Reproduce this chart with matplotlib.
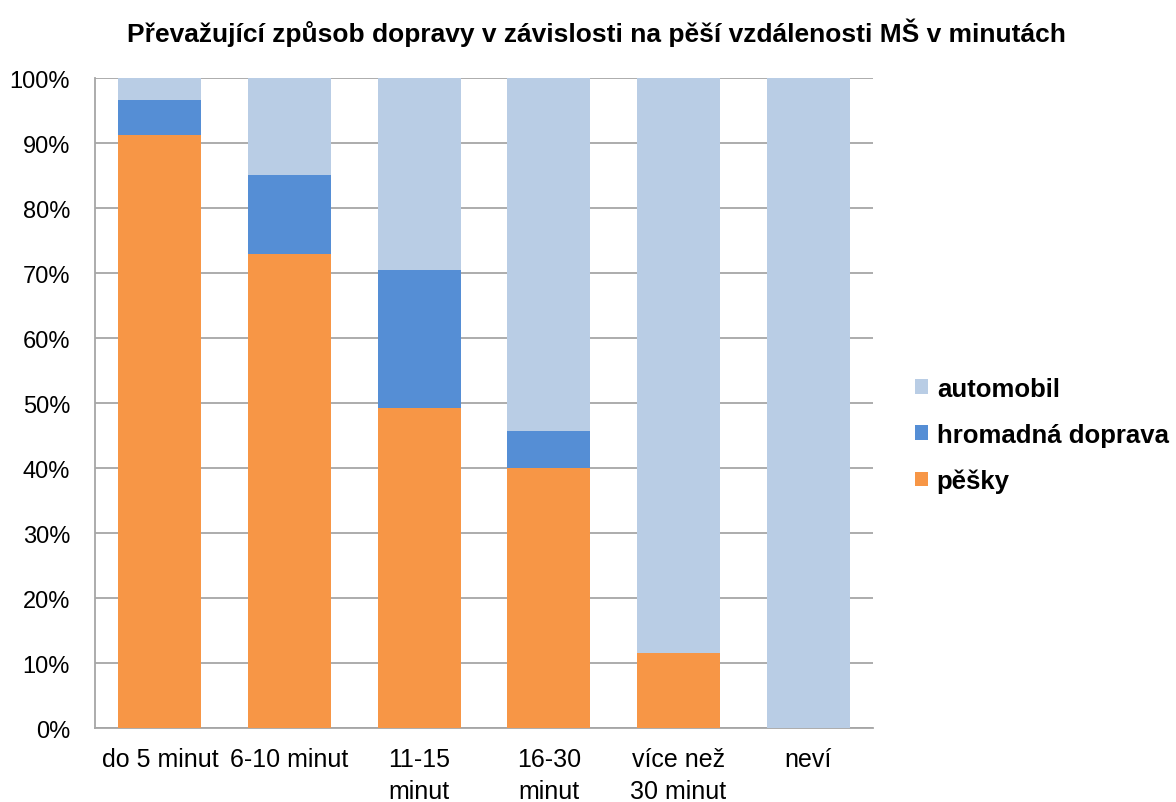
import numpy as np
import matplotlib.pyplot as plt
from matplotlib.ticker import PercentFormatter

plt.rcParams['font.family'] = ['Liberation Sans', 'DejaVu Sans']

categories = ["do 5 minut", "6-10 minut", "11-15\nminut", "16-30\nminut",
              "více než\n30 minut", "neví"]
peshky = [91.2, 73.0, 49.2, 40.0, 11.5, 0.0]
hromadna = [5.4, 12.1, 21.3, 5.7, 0.0, 0.0]
automobil = [3.4, 14.9, 29.5, 54.3, 88.5, 100.0]

fig = plt.figure(figsize=(11.76, 8.03), dpi=100)
ax = fig.add_axes([0.0808, 0.0921, 0.6615, 0.8095])

x = np.arange(len(categories))
w = 0.64
b1 = ax.bar(x, peshky, w, color="#F79646", label="pěšky", zorder=3)
b2 = ax.bar(x, hromadna, w, bottom=peshky, color="#558ED5",
            label="hromadná doprava", zorder=3)
bottom2 = np.array(peshky) + np.array(hromadna)
b3 = ax.bar(x, automobil, w, bottom=bottom2, color="#B9CDE5",
            label="automobil", zorder=3)

ax.set_xlim(-0.5, len(categories) - 0.5)
ax.set_ylim(0, 100)
ax.set_yticks(np.arange(0, 101, 10))
ax.yaxis.set_major_formatter(PercentFormatter(decimals=0))
ax.grid(axis="y", color="#A6A6A6", linewidth=1.3, zorder=0)
ax.set_xticks(x)
ax.set_xticklabels(categories, fontsize=18, linespacing=1.4)
ax.tick_params(axis="y", labelsize=17, length=0, pad=18)
ax.tick_params(axis="x", length=0, pad=14)
for s in ["top", "right"]:
    ax.spines[s].set_visible(False)
for s in ["left", "bottom"]:
    ax.spines[s].set_color("#A6A6A6")
    ax.spines[s].set_linewidth(1.3)

ax.set_title("Převažující způsob dopravy v závislosti na pěší vzdálenosti MŠ v minutách",
             fontsize=19, fontweight="bold", x=0.644, pad=27)

handles = [b3, b2, b1]
fig.legend(handles, [h.get_label() for h in handles], loc="center left",
           bbox_to_anchor=(0.778, 0.457), frameon=False, borderpad=0,
           borderaxespad=0, prop={"size": 18.5, "weight": "bold"},
           handlelength=0.5, handleheight=0.5, handletextpad=0.35,
           labelspacing=0.85)

fig.savefig("out.png", dpi=100)
